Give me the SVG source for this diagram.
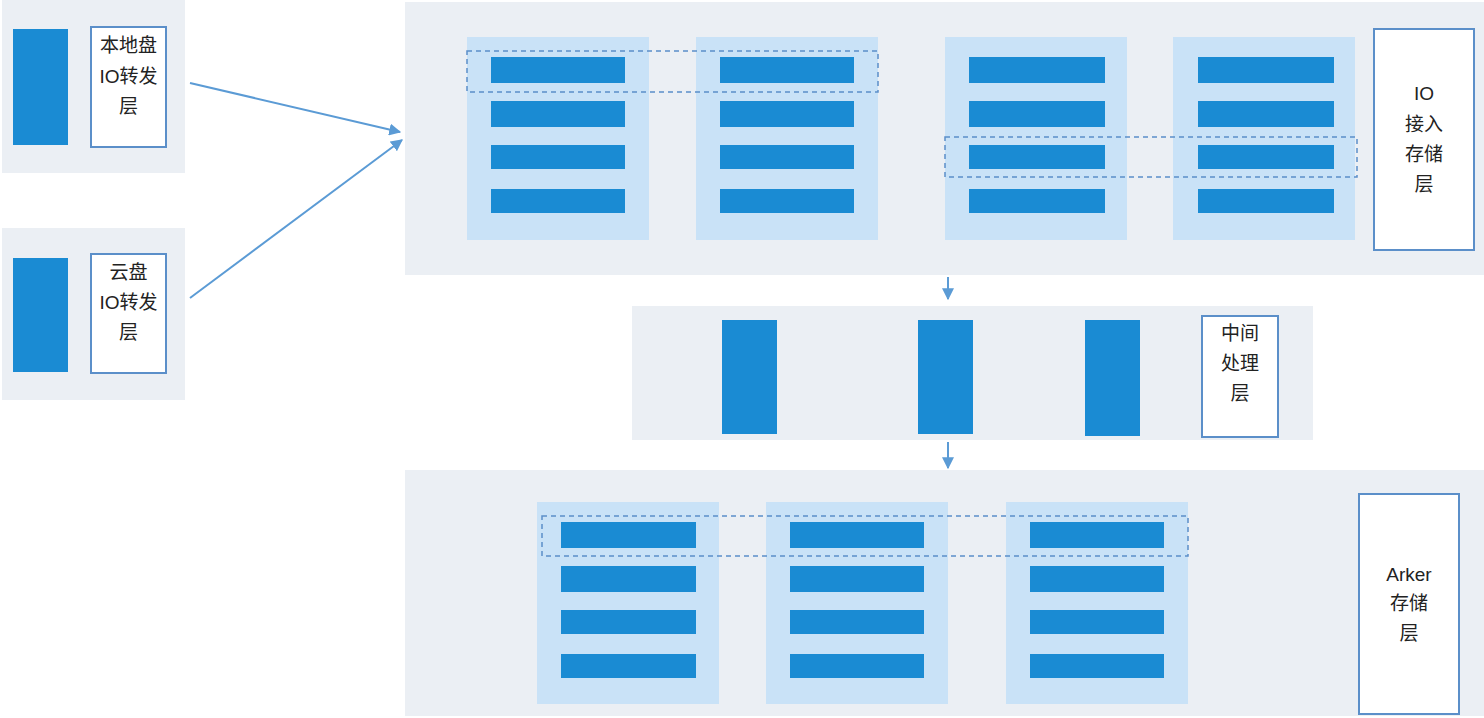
<svg xmlns="http://www.w3.org/2000/svg" width="1484" height="718" viewBox="0 0 1484 718">
<style>
.panel{fill:#ebeff4}
.col{fill:#c9e2f7}
.bar{fill:#1a8bd3}
.lbl{fill:#ffffff;stroke:#5b8fc9;stroke-width:2}
.dash{fill:none;stroke:#5b8fc9;stroke-width:1.5;stroke-dasharray:5 4}
.t{font-family:"Liberation Sans","Noto Sans CJK SC",sans-serif;font-size:19px;fill:#222;text-anchor:middle}
.conn{stroke:#5b9bd5;stroke-width:2;fill:none;marker-end:url(#ah)}
</style>
<defs>
<marker id="ah" viewBox="0 0 10 10" refX="9" refY="5" markerWidth="6" markerHeight="6" orient="auto" markerUnits="strokeWidth">
<path d="M0,0 L10,5 L0,10 z" fill="#5b9bd5"/>
</marker>
</defs>
<rect width="1484" height="718" fill="#ffffff"/>

<g id="local-io">
<rect class="panel" x="2" y="0" width="183" height="173"/>
<rect class="bar" x="13" y="29" width="55" height="116"/>
<rect class="lbl" x="91" y="27" width="75" height="120"/>
<text class="t" x="128.5" y="52">本地盘</text>
<text class="t" x="128.5" y="83">IO转发</text>
<text class="t" x="128.5" y="113">层</text>
</g>

<g id="cloud-io">
<rect class="panel" x="2" y="228" width="183" height="172"/>
<rect class="bar" x="13" y="258" width="55" height="114"/>
<rect class="lbl" x="91" y="254" width="75" height="119"/>
<text class="t" x="128.5" y="279">云盘</text>
<text class="t" x="128.5" y="309">IO转发</text>
<text class="t" x="128.5" y="339">层</text>
</g>

<g id="io-access-storage">
<rect class="panel" x="405" y="2" width="1079" height="273"/>
<rect class="col" x="467" y="37" width="182" height="203"/>
<rect class="col" x="696" y="37" width="182" height="203"/>
<rect class="col" x="945" y="37" width="182" height="203"/>
<rect class="col" x="1173" y="37" width="182" height="203"/>
<g>
<rect class="bar" x="491" y="57" width="134" height="26"/>
<rect class="bar" x="491" y="101" width="134" height="26"/>
<rect class="bar" x="491" y="145" width="134" height="24"/>
<rect class="bar" x="491" y="189" width="134" height="24"/>
<rect class="bar" x="720" y="57" width="134" height="26"/>
<rect class="bar" x="720" y="101" width="134" height="26"/>
<rect class="bar" x="720" y="145" width="134" height="24"/>
<rect class="bar" x="720" y="189" width="134" height="24"/>
<rect class="bar" x="969" y="57" width="136" height="26"/>
<rect class="bar" x="969" y="101" width="136" height="26"/>
<rect class="bar" x="969" y="145" width="136" height="24"/>
<rect class="bar" x="969" y="189" width="136" height="24"/>
<rect class="bar" x="1198" y="57" width="136" height="26"/>
<rect class="bar" x="1198" y="101" width="136" height="26"/>
<rect class="bar" x="1198" y="145" width="136" height="24"/>
<rect class="bar" x="1198" y="189" width="136" height="24"/>
</g>
<rect class="dash" x="467" y="51" width="411" height="41"/>
<rect class="dash" x="945" y="137" width="412" height="40"/>
<rect class="lbl" x="1374" y="29" width="100" height="221"/>
<text class="t" x="1424" y="100">IO</text>
<text class="t" x="1424" y="131">接入</text>
<text class="t" x="1424" y="161">存储</text>
<text class="t" x="1424" y="191">层</text>
</g>

<g id="middle-processing">
<rect class="panel" x="632" y="306" width="681" height="134"/>
<rect class="bar" x="722" y="320" width="55" height="114"/>
<rect class="bar" x="918" y="320" width="55" height="114"/>
<rect class="bar" x="1085" y="320" width="55" height="116"/>
<rect class="lbl" x="1202" y="316" width="76" height="121"/>
<text class="t" x="1240" y="340">中间</text>
<text class="t" x="1240" y="370">处理</text>
<text class="t" x="1240" y="400">层</text>
</g>

<g id="arker-storage">
<rect class="panel" x="405" y="470" width="1079" height="246"/>
<rect class="col" x="537" y="502" width="182" height="202"/>
<rect class="col" x="766" y="502" width="182" height="202"/>
<rect class="col" x="1006" y="502" width="182" height="202"/>
<g>
<rect class="bar" x="561" y="522" width="135" height="26"/>
<rect class="bar" x="561" y="566" width="135" height="26"/>
<rect class="bar" x="561" y="610" width="135" height="24"/>
<rect class="bar" x="561" y="654" width="135" height="24"/>
<rect class="bar" x="790" y="522" width="134" height="26"/>
<rect class="bar" x="790" y="566" width="134" height="26"/>
<rect class="bar" x="790" y="610" width="134" height="24"/>
<rect class="bar" x="790" y="654" width="134" height="24"/>
<rect class="bar" x="1030" y="522" width="134" height="26"/>
<rect class="bar" x="1030" y="566" width="134" height="26"/>
<rect class="bar" x="1030" y="610" width="134" height="24"/>
<rect class="bar" x="1030" y="654" width="134" height="24"/>
</g>
<rect class="dash" x="542" y="516" width="646" height="40"/>
<rect class="lbl" x="1359" y="494" width="100" height="220"/>
<text class="t" x="1409" y="581">Arker</text>
<text class="t" x="1409" y="610">存储</text>
<text class="t" x="1409" y="640">层</text>
</g>

<g id="connectors">
<line class="conn" x1="190" y1="83" x2="400" y2="132"/>
<line class="conn" x1="190" y1="298" x2="402" y2="140"/>
<line class="conn" x1="948" y1="277" x2="948" y2="299"/>
<line class="conn" x1="948" y1="442" x2="948" y2="468"/>
</g>
</svg>
